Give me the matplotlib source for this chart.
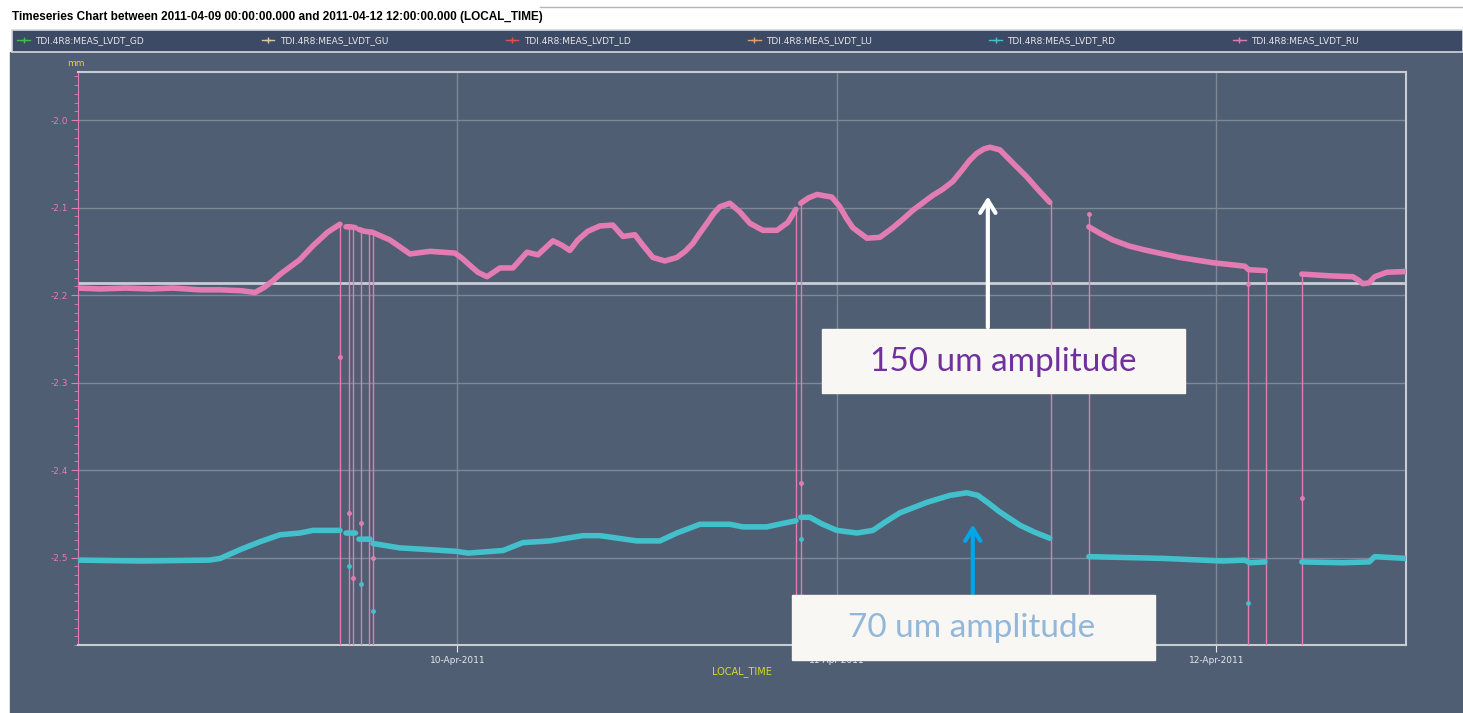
import datetime as dt
import matplotlib
matplotlib.use("Agg")
import matplotlib.pyplot as plt
import matplotlib.dates as mdates
import numpy as np
from matplotlib.lines import Line2D
from matplotlib.patches import Rectangle
from matplotlib.ticker import MultipleLocator, FixedLocator, FormatStrFormatter

# LVDT readings, hours since 2011-04-09 00:00 (nan = gap in the record)
ru_hours = [0, 1.4, 3.0, 4.6, 6.0, 7.7, 9.0, 10.3, 11.2, 11.8, 12.3, 12.8, 13.4, 14.0, 14.9,
            15.8, 16.57,
            16.8,
            16.95, 17.25, 17.55,
            17.65,
            17.77, 18.1, 18.47,
            18.52,
            18.59, 19.73, 21.0, 22.26, 23.84, 24.3, 24.79, 25.3, 25.87, 26.69, 27.51, 28.4, 29.09,
            30.04, 30.61, 31.11, 31.62, 32.25, 33.01, 33.83, 34.47, 35.22, 35.73, 36.36, 37.12,
            37.88, 38.4, 38.89, 39.3, 39.78, 40.2, 40.6, 41.23, 41.87, 42.5, 43.32, 44.21, 44.9,
            45.41,
            45.55,
            45.72, 46.2, 46.74, 47.68, 48.19, 48.6, 49.01, 49.9, 50.72, 51.54, 52.2, 52.81, 54.07,
            54.7, 55.34, 55.97, 56.4, 56.85, 57.3, 57.68, 58.31, 59.13, 60.02, 60.65, 61.47,
            62.5,
            63.94, 64.7, 65.45, 66.5, 67.61, 69.69, 71.78, 73.8, 74.05, 75.1,
            76.0,
            77.41, 79.18, 80.63, 81.0, 81.26, 81.67, 82.02, 82.78, 84.0]
ru_mm = [-2.192, -2.193, -2.192, -2.193, -2.192, -2.194, -2.194, -2.195, -2.197, -2.191, -2.184,
         -2.176, -2.168, -2.160, -2.143, -2.128, -2.119,
         np.nan,
         -2.122, -2.122, -2.123,
         np.nan,
         -2.125, -2.127, -2.128,
         np.nan,
         -2.128, -2.137, -2.153, -2.150, -2.152, -2.158, -2.166, -2.174, -2.179, -2.169, -2.169,
         -2.151, -2.154, -2.138, -2.143, -2.149, -2.137, -2.127, -2.121, -2.120, -2.133, -2.131,
         -2.143, -2.157, -2.161, -2.157, -2.150, -2.141, -2.130, -2.118, -2.107, -2.099, -2.095,
         -2.105, -2.118, -2.126, -2.126, -2.117, -2.102,
         np.nan,
         -2.095, -2.089, -2.085, -2.088, -2.099, -2.112, -2.123, -2.135, -2.134, -2.123, -2.113,
         -2.103, -2.086, -2.079, -2.070, -2.056, -2.046, -2.038, -2.033, -2.031, -2.034, -2.049,
         -2.065, -2.078, -2.094,
         np.nan,
         -2.122, -2.130, -2.137, -2.144, -2.149, -2.157, -2.163, -2.167, -2.171, -2.172,
         np.nan,
         -2.176, -2.178, -2.179, -2.183, -2.187, -2.186, -2.179, -2.174, -2.173]

rd_hours = [0, 4.0, 8.3, 9.0, 10.25, 11.51, 12.77, 14.04, 14.86, 16.57,
            16.8,
            16.95, 17.55,
            17.65,
            17.77, 18.47,
            18.55,
            18.66, 20.36, 22.26, 23.97, 24.66, 26.88, 28.14, 29.85, 31.94, 33.01, 35.35, 36.81,
            37.88, 39.34, 41.23, 42.05, 43.57, 44.58, 45.41,
            45.55,
            45.72, 46.29, 47.1, 48.0, 49.27, 50.28, 51.1, 51.98, 53.69, 55.15, 56.22, 56.92, 57.6,
            58.31, 59.57, 60.5, 61.47,
            62.5,
            63.94, 68.62, 72.41, 73.8, 74.12, 75.07,
            76.0,
            77.41, 79.99, 81.67, 82.02, 83.98]
rd_mm = [-2.503, -2.504, -2.503, -2.501, -2.491, -2.482, -2.474, -2.472, -2.469, -2.469,
         np.nan,
         -2.472, -2.472,
         np.nan,
         -2.479, -2.479,
         np.nan,
         -2.484, -2.489, -2.491, -2.493, -2.495, -2.492, -2.483, -2.481, -2.475, -2.475, -2.481,
         -2.481, -2.472, -2.462, -2.462, -2.465, -2.465, -2.461, -2.458,
         np.nan,
         -2.454, -2.454, -2.462, -2.469, -2.472, -2.469, -2.459, -2.449, -2.437, -2.429, -2.426,
         -2.429, -2.438, -2.448, -2.463, -2.471, -2.478,
         np.nan,
         -2.499, -2.501, -2.504, -2.503, -2.506, -2.505,
         np.nan,
         -2.505, -2.506, -2.505, -2.499, -2.501]

# dropouts: the RU trace falls off the bottom of the scale
drop_hours = [16.57, 17.11, 17.39, 17.90, 18.40, 18.66, 45.41, 45.72, 61.53, 63.94, 73.99, 75.13, 77.41]
drop_top = [-2.119, -2.122, -2.122, -2.125, -2.128, -2.129, -2.102, -2.095, -2.094, -2.107,
            -2.171, -2.173, -2.176]

# isolated samples
ru_spike_hours = [16.57, 17.11, 17.39, 17.90, 18.66, 45.72, 63.94, 73.99, 77.41]
ru_spike_mm = [-2.271, -2.449, -2.523, -2.461, -2.501, -2.415, -2.107, -2.187, -2.432]
rd_spike_hours = [17.11, 17.90, 18.66, 45.72, 73.99]
rd_spike_mm = [-2.510, -2.530, -2.561, -2.479, -2.552]

ref_level = -2.186
y_ticks = [-2.5, -2.4, -2.3, -2.2, -2.1, -2.0]
x_tick_days = [1, 2, 3]

channels = ["TDI.4R8:MEAS_LVDT_GD", "TDI.4R8:MEAS_LVDT_GU", "TDI.4R8:MEAS_LVDT_LD",
            "TDI.4R8:MEAS_LVDT_LU", "TDI.4R8:MEAS_LVDT_RD", "TDI.4R8:MEAS_LVDT_RU"]
channel_colors = ["#3fbf4a", "#d8c89c", "#e2504e", "#e0a064", "#40c0c8", "#e07ab2"]

title = ("Timeseries Chart between 2011-04-09 00:00:00.000 and "
         "2011-04-12 12:00:00.000 (LOCAL_TIME)")

W, H = 1463, 713
slate = "#4f5e72"
pink = "#e47cb4"
cyan = "#42c0cb"
yellow = "#d9d92a"

t0 = mdates.date2num(dt.datetime(2011, 4, 9))


def to_days(hours):
    return t0 + np.asarray(hours, dtype=float) / 24.0


fig = plt.figure(figsize=(W / 100, H / 100), dpi=100, facecolor="white")

# panel background and legend strip
fig.patches.append(Rectangle((10 / W, 0), (W - 10) / W, (H - 52) / H,
                             transform=fig.transFigure, color=slate, zorder=-2))
fig.patches.append(Rectangle((12 / W, 1 - 52 / H), (W - 12) / W, 22 / H,
                             transform=fig.transFigure, facecolor="#3d4a65",
                             edgecolor="#d4d8e0", lw=1.2, zorder=-1))
fig.add_artist(Line2D([540 / W, 1], [1 - 7 / H] * 2, color="#b4b4b4", lw=1))
fig.text(12 / W, 1 - 17 / H, title, fontsize=8.5, fontweight="bold",
         family="Liberation Sans", va="center", ha="left")

ax = fig.add_axes([78 / W, 1 - 645 / H, 1328 / W, 573 / H])
ax.set_facecolor(slate)

ax.grid(True, which="major", color="#7d8797", lw=1)
ax.set_axisbelow(True)
ax.axhline(ref_level, color="#c8ced6", lw=2, zorder=2)

ax.vlines(to_days(drop_hours), -2.6, drop_top, color=pink, lw=1, zorder=3)
ax.plot(to_days(rd_hours), rd_mm, color=cyan, lw=4, solid_capstyle="round",
        solid_joinstyle="round", zorder=4)
ax.plot(to_days(ru_hours), ru_mm, color=pink, lw=4, solid_capstyle="round",
        solid_joinstyle="round", zorder=4)
ax.plot(to_days(ru_spike_hours), ru_spike_mm, "o", ms=2.5, color=pink, zorder=5)
ax.plot(to_days(rd_spike_hours), rd_spike_mm, "o", ms=2.5, color=cyan, zorder=5)

ax.set_xlim(t0, t0 + 3.5)
ax.set_ylim(-2.6, -1.945)

ax.xaxis.set_major_locator(FixedLocator([t0 + d for d in x_tick_days]))
ax.xaxis.set_major_formatter(mdates.DateFormatter("%d-%b-%Y"))
ax.yaxis.set_major_locator(FixedLocator(y_ticks))
ax.yaxis.set_minor_locator(MultipleLocator(0.01))
ax.yaxis.set_major_formatter(FormatStrFormatter("%.1f"))
ax.tick_params(axis="y", which="major", colors=pink, labelsize=6.5, length=5, pad=2)
ax.tick_params(axis="y", which="minor", colors=pink, length=3)
ax.tick_params(axis="x", which="major", colors="#e6e8ec", labelsize=6.5, length=5, pad=3)

for side in ("top", "right", "bottom"):
    ax.spines[side].set_color("#c8ccd4")
    ax.spines[side].set_linewidth(1.5)
ax.spines["left"].set_color(pink)

ax.set_xlabel("LOCAL_TIME", color=yellow, fontsize=7, labelpad=1)
fig.text(76 / W, 1 - 63 / H, "mm", color=yellow, fontsize=6.5, ha="center", va="center")

# legend strip
handles = [Line2D([], [], color=c, lw=1, marker="+", ms=4, markeredgewidth=1)
           for c in channel_colors]
fig.legend(handles, channels, loc="center left", ncol=6, mode="expand",
           bbox_to_anchor=(12 / W, 1 - 52 / H, 1352 / W, 22 / H),
           frameon=False, fontsize=6.5, labelcolor="#e6e6e6",
           handlelength=1.4, handletextpad=0.6, borderaxespad=0.2)

# amplitude call-outs
ax.annotate("", xy=(to_days(57.55), -2.084), xytext=(to_days(57.55), -2.240),
            arrowprops=dict(arrowstyle="->,head_length=0.9,head_width=0.55",
                            color="white", lw=3), zorder=6)
ax.annotate("", xy=(to_days(56.60), -2.459), xytext=(to_days(56.60), -2.544),
            arrowprops=dict(arrowstyle="->,head_length=0.9,head_width=0.55",
                            color="#00a6e6", lw=3), zorder=6)

fig.patches.append(Rectangle((822 / W, 1 - 393 / H), 363 / W, 64 / H,
                             transform=fig.transFigure, color="#f9f7f3", zorder=5))
fig.patches.append(Rectangle((792 / W, 1 - 660 / H), 363 / W, 65 / H,
                             transform=fig.transFigure, color="#f9f7f3", zorder=5))
fig.text(1003 / W, 1 - 362 / H, "150 um amplitude", color="#7030a0", fontsize=24,
         family="Lato", ha="center", va="center", zorder=6)
fig.text(972 / W, 1 - 628 / H, "70 um amplitude", color="#93b7d8", fontsize=24,
         family="Lato", ha="center", va="center", zorder=6)

fig.savefig("out.png", dpi=100, facecolor="white")
